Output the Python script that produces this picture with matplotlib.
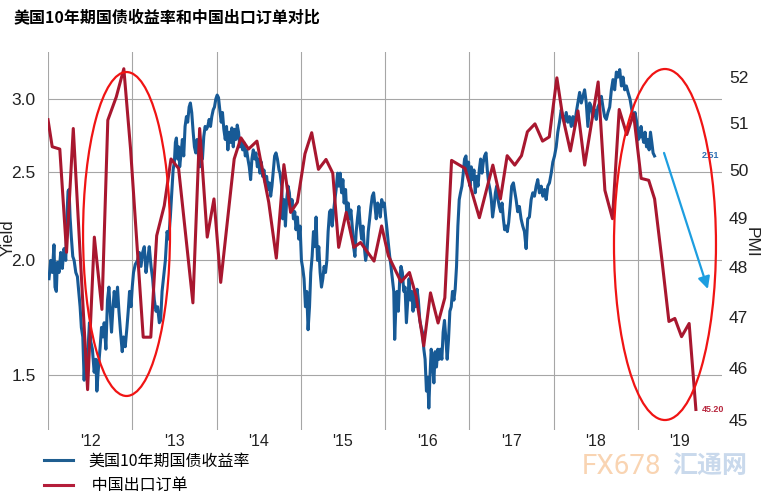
import matplotlib
matplotlib.use("Agg")
import matplotlib.pyplot as plt
from matplotlib.lines import Line2D
from matplotlib.patches import Ellipse
from matplotlib.ticker import NullLocator

plt.rcParams['font.family'] = ['Liberation Sans', 'Noto Sans CJK SC']

# --- text ---
TITLE = "美国10年期国债收益率和中国出口订单对比"
BOND_LABEL = "美国10年期国债收益率"
PMI_LABEL = "中国出口订单"

# --- axes ---
YEAR_TICKS = [2012, 2013, 2014, 2015, 2016, 2017, 2018, 2019]
YEAR_LABELS = ["'12", "'13", "'14", "'15", "'16", "'17", "'18", "'19"]
YIELD_TICKS = [1.5, 2.0, 2.5, 3.0]
PMI_TICKS = [45, 46, 47, 48, 49, 50, 51, 52]

# --- US 10y yield (decimal years) ---
BOND_YEARS = [
    2012.012, 2012.032, 2012.051, 2012.071, 2012.083, 2012.099, 2012.111, 2012.131, 2012.151, 2012.170,
    2012.190, 2012.211, 2012.223, 2012.238, 2012.250, 2012.262, 2012.277, 2012.294, 2012.310, 2012.330,
    2012.349, 2012.365, 2012.381, 2012.396, 2012.413, 2012.429, 2012.444, 2012.461, 2012.476, 2012.492,
    2012.508, 2012.527, 2012.548, 2012.568, 2012.580, 2012.595, 2012.619, 2012.635, 2012.651, 2012.667,
    2012.687, 2012.706, 2012.723, 2012.738, 2012.754, 2012.770, 2012.786, 2012.806, 2012.825, 2012.842,
    2012.861, 2012.881, 2012.896, 2012.917, 2012.937, 2012.952, 2012.968, 2012.985, 2013.000, 2013.015,
    2013.036, 2013.063, 2013.083, 2013.104, 2013.123, 2013.143, 2013.163, 2013.182, 2013.202, 2013.223,
    2013.242, 2013.262, 2013.282, 2013.301, 2013.321, 2013.337, 2013.354, 2013.373, 2013.393, 2013.413,
    2013.432, 2013.452, 2013.473, 2013.485, 2013.500, 2013.512, 2013.524, 2013.539, 2013.551, 2013.563,
    2013.580, 2013.595, 2013.611, 2013.627, 2013.643, 2013.658, 2013.675, 2013.690, 2013.706, 2013.723,
    2013.738, 2013.754, 2013.770, 2013.786, 2013.801, 2013.818, 2013.833, 2013.849, 2013.865, 2013.881,
    2013.896, 2013.913, 2013.929, 2013.944, 2013.961, 2013.976, 2013.992, 2014.008, 2014.024, 2014.039,
    2014.056, 2014.071, 2014.087, 2014.104, 2014.119, 2014.135, 2014.151, 2014.167, 2014.182, 2014.199,
    2014.214, 2014.230, 2014.246, 2014.262, 2014.277, 2014.294, 2014.310, 2014.325, 2014.342, 2014.357,
    2014.373, 2014.389, 2014.405, 2014.420, 2014.437, 2014.452, 2014.468, 2014.485, 2014.500, 2014.515,
    2014.532, 2014.548, 2014.563, 2014.580, 2014.595, 2014.611, 2014.627, 2014.643, 2014.658, 2014.675,
    2014.690, 2014.706, 2014.723, 2014.742, 2014.754, 2014.774, 2014.786, 2014.801, 2014.818, 2014.833,
    2014.849, 2014.865, 2014.881, 2014.896, 2014.913, 2014.929, 2014.944, 2014.961, 2014.976, 2014.992,
    2015.008, 2015.024, 2015.039, 2015.056, 2015.071, 2015.087, 2015.104, 2015.119, 2015.135, 2015.151,
    2015.167, 2015.182, 2015.199, 2015.214, 2015.230, 2015.246, 2015.262, 2015.277, 2015.294, 2015.310,
    2015.325, 2015.342, 2015.357, 2015.373, 2015.389, 2015.405, 2015.420, 2015.437, 2015.452, 2015.468,
    2015.485, 2015.500, 2015.515, 2015.532, 2015.548, 2015.563, 2015.580, 2015.595, 2015.611, 2015.627,
    2015.643, 2015.658, 2015.675, 2015.690, 2015.706, 2015.723, 2015.738, 2015.754, 2015.770, 2015.786,
    2015.801, 2015.818, 2015.833, 2015.849, 2015.865, 2015.881, 2015.896, 2015.913, 2015.929, 2015.944,
    2015.961, 2015.976, 2015.992, 2016.008, 2016.024, 2016.039, 2016.056, 2016.071, 2016.087, 2016.104,
    2016.115, 2016.127, 2016.143, 2016.158, 2016.175, 2016.190, 2016.206, 2016.223, 2016.238, 2016.254,
    2016.270, 2016.286, 2016.301, 2016.318, 2016.333, 2016.349, 2016.365, 2016.381, 2016.396, 2016.413,
    2016.429, 2016.444, 2016.461, 2016.476, 2016.492, 2016.508, 2016.520, 2016.532, 2016.548, 2016.563,
    2016.580, 2016.595, 2016.611, 2016.627, 2016.643, 2016.658, 2016.675, 2016.690, 2016.706, 2016.723,
    2016.738, 2016.754, 2016.770, 2016.786, 2016.801, 2016.818, 2016.833, 2016.849, 2016.865, 2016.881,
    2016.896, 2016.913, 2016.929, 2016.944, 2016.961, 2016.976, 2016.992, 2017.008, 2017.024, 2017.039,
    2017.056, 2017.071, 2017.087, 2017.104, 2017.119, 2017.135, 2017.151, 2017.167, 2017.182, 2017.199,
    2017.214, 2017.230, 2017.246, 2017.262, 2017.277, 2017.294, 2017.310, 2017.325, 2017.342, 2017.357,
    2017.373, 2017.389, 2017.405, 2017.420, 2017.437, 2017.452, 2017.468, 2017.485, 2017.504, 2017.524,
    2017.536, 2017.556, 2017.575, 2017.595, 2017.615, 2017.635, 2017.655, 2017.675, 2017.694, 2017.714,
    2017.735, 2017.754, 2017.774, 2017.794, 2017.813, 2017.833, 2017.854, 2017.873, 2017.893, 2017.913,
    2017.932, 2017.952, 2017.973, 2017.992, 2018.012, 2018.032, 2018.051, 2018.071, 2018.092, 2018.111,
    2018.131, 2018.151, 2018.170, 2018.190, 2018.211, 2018.230, 2018.250, 2018.270, 2018.289, 2018.310,
    2018.330, 2018.349, 2018.369, 2018.389, 2018.408, 2018.429, 2018.449, 2018.468, 2018.488, 2018.508,
    2018.527, 2018.548, 2018.568, 2018.587, 2018.607, 2018.627, 2018.646, 2018.667, 2018.687, 2018.706,
    2018.726, 2018.746, 2018.765, 2018.786, 2018.806, 2018.825, 2018.845, 2018.865, 2018.885, 2018.908,
    2018.929, 2018.949, 2018.968, 2018.988, 2019.008, 2019.027, 2019.039, 2019.056, 2019.071, 2019.087,
    2019.104, 2019.119, 2019.135, 2019.151, 2019.167, 2019.182, 2019.199,
]
BOND_YIELD = [
    1.91, 2.00, 1.94, 2.08, 1.87, 1.85, 1.99, 1.94, 2.04, 1.96,
    2.06, 2.00, 2.22, 2.38, 2.39, 2.23, 2.12, 2.02, 2.00, 1.94,
    1.92, 1.85, 1.78, 1.69, 1.65, 1.48, 1.60, 1.53, 1.61, 1.71,
    1.63, 1.60, 1.51, 1.56, 1.44, 1.51, 1.61, 1.69, 1.65, 1.71,
    1.60, 1.81, 1.87, 1.76, 1.67, 1.77, 1.85, 1.78, 1.87, 1.76,
    1.67, 1.59, 1.65, 1.61, 1.69, 1.76, 1.85, 1.78, 1.87, 1.94,
    1.98, 2.00, 2.04, 1.97, 2.04, 2.07, 1.94, 2.00, 2.07, 1.97,
    1.91, 1.81, 1.76, 1.78, 1.71, 1.72, 1.85, 1.92, 2.00, 2.15,
    2.11, 2.23, 2.41, 2.51, 2.56, 2.69, 2.72, 2.58, 2.66, 2.53,
    2.62, 2.71, 2.60, 2.80, 2.87, 2.83, 2.94, 2.97, 2.90, 2.76,
    2.66, 2.62, 2.71, 2.60, 2.53, 2.66, 2.58, 2.73, 2.80, 2.78,
    2.80, 2.85, 2.80, 2.87, 2.92, 2.94, 3.00, 3.03, 3.01, 2.92,
    2.83, 2.90, 2.78, 2.71, 2.80, 2.64, 2.76, 2.69, 2.79, 2.66,
    2.78, 2.71, 2.81, 2.76, 2.66, 2.71, 2.64, 2.69, 2.60, 2.64,
    2.58, 2.53, 2.45, 2.58, 2.64, 2.58, 2.62, 2.53, 2.58, 2.49,
    2.56, 2.47, 2.51, 2.43, 2.47, 2.39, 2.43, 2.35, 2.41, 2.51,
    2.60, 2.62, 2.58, 2.51, 2.49, 2.41, 2.22, 2.33, 2.18, 2.33,
    2.41, 2.37, 2.26, 2.33, 2.22, 2.26, 2.16, 2.23, 2.11, 2.18,
    2.00, 1.96, 1.91, 1.78, 1.85, 1.68, 1.78, 1.94, 2.02, 2.15,
    2.07, 2.23, 2.00, 2.07, 1.94, 1.87, 1.91, 1.97, 1.94, 2.00,
    2.15, 2.26, 2.27, 2.18, 2.26, 2.33, 2.39, 2.49, 2.41, 2.49,
    2.37, 2.45, 2.31, 2.39, 2.23, 2.31, 2.22, 2.27, 2.18, 2.07,
    2.02, 2.15, 2.23, 2.29, 2.18, 2.11, 2.18, 2.07, 2.00, 2.04,
    2.15, 2.22, 2.29, 2.35, 2.37, 2.29, 2.22, 2.31, 2.29, 2.23,
    2.33, 2.29, 2.31, 2.23, 2.16, 2.09, 2.02, 1.97, 1.91, 1.85,
    1.64, 1.76, 1.85, 1.76, 1.91, 1.97, 1.94, 1.85, 1.87, 1.71,
    1.81, 1.91, 1.81, 1.85, 1.76, 1.85, 1.78, 1.86, 1.81, 1.72,
    1.69, 1.67, 1.60, 1.56, 1.44, 1.49, 1.38, 1.48, 1.60, 1.56,
    1.47, 1.59, 1.53, 1.60, 1.56, 1.60, 1.56, 1.67, 1.72, 1.64,
    1.56, 1.64, 1.76, 1.78, 1.85, 1.81, 1.86, 1.97, 2.18, 2.33,
    2.37, 2.41, 2.49, 2.58, 2.60, 2.49, 2.56, 2.41, 2.53, 2.45,
    2.51, 2.37, 2.47, 2.41, 2.51, 2.58, 2.49, 2.56, 2.60, 2.62,
    2.51, 2.43, 2.39, 2.33, 2.23, 2.29, 2.37, 2.41, 2.33, 2.29,
    2.26, 2.31, 2.22, 2.16, 2.18, 2.15, 2.20, 2.29, 2.41, 2.43,
    2.39, 2.33, 2.26, 2.29, 2.22, 2.18, 2.15, 2.06, 2.22, 2.23,
    2.33, 2.37, 2.35, 2.41, 2.45, 2.37, 2.41, 2.35, 2.39, 2.33,
    2.41, 2.43, 2.49, 2.56, 2.60, 2.66, 2.76, 2.83, 2.92, 2.87,
    2.83, 2.90, 2.83, 2.87, 2.80, 2.87, 2.80, 2.90, 2.97, 3.05,
    2.97, 3.02, 3.07, 2.97, 2.80, 2.97, 2.94, 2.87, 2.92, 2.85,
    2.94, 2.97, 3.02, 2.94, 2.87, 2.85, 2.90, 2.94, 3.07, 3.15,
    3.07, 3.21, 3.17, 3.23, 3.10, 3.17, 3.07, 3.10, 3.05, 3.00,
    2.92, 2.85, 2.90, 2.83, 2.71, 2.73, 2.80, 2.73, 2.69, 2.76,
    2.66, 2.71, 2.64, 2.76, 2.69, 2.62, 2.60,
]

# --- China new export orders PMI ---
PMI_YEARS = [
    2012.00, 2012.05, 2012.14, 2012.22, 2012.30, 2012.47, 2012.55, 2012.64, 2012.71, 2012.81,
    2012.90, 2012.98, 2013.13, 2013.22, 2013.29, 2013.38, 2013.46, 2013.55, 2013.72, 2013.80,
    2013.89, 2013.97, 2014.05, 2014.21, 2014.29, 2014.38, 2014.48, 2014.52, 2014.62, 2014.71,
    2014.80, 2014.88, 2014.96, 2015.05, 2015.13, 2015.21, 2015.30, 2015.38, 2015.45, 2015.54,
    2015.63, 2015.71, 2015.87, 2015.96, 2016.04, 2016.19, 2016.29, 2016.37, 2016.46, 2016.54,
    2016.63, 2016.71, 2016.79, 2016.95, 2017.12, 2017.28, 2017.37, 2017.45, 2017.54, 2017.62,
    2017.69, 2017.78, 2017.87, 2017.95, 2018.04, 2018.11, 2018.20, 2018.29, 2018.37, 2018.53,
    2018.61, 2018.70, 2018.78, 2018.87, 2018.95, 2019.04, 2019.13, 2019.20, 2019.29, 2019.37,
    2019.44, 2019.52, 2019.61, 2019.69,
]
PMI_VALUES = [
    51.08, 50.50, 50.45, 48.30, 50.89, 45.58, 48.61, 47.15, 51.07, 51.57,
    52.19, 50.45, 46.60, 46.60, 48.64, 49.26, 50.24, 50.04, 47.28, 50.89,
    48.61, 49.40, 47.69, 50.24, 50.69, 50.45, 50.62, 50.24, 49.33, 48.18,
    50.12, 49.12, 49.33, 50.35, 50.80, 50.02, 50.23, 49.94, 48.40, 49.12,
    48.40, 48.50, 48.12, 48.84, 48.23, 47.70, 47.89, 47.41, 46.43, 47.48,
    46.88, 47.38, 50.21, 50.04, 49.01, 50.11, 49.40, 50.31, 50.11, 50.31,
    50.82, 50.99, 50.62, 50.71, 51.99, 51.14, 50.41, 51.27, 50.11, 51.90,
    49.58, 48.99, 51.30, 50.76, 51.21, 49.83, 49.79, 49.40, 48.10, 46.91,
    46.97, 46.61, 46.87, 45.20,
]
assert len(BOND_YEARS) == len(BOND_YIELD)
assert len(PMI_YEARS) == len(PMI_VALUES)

BLUE = '#175a96'
RED = '#a8172f'
GRID = '#a6a6a6'
CJK = ['Noto Sans CJK SC', 'DejaVu Sans']

fig = plt.figure(figsize=(7.67, 4.96), dpi=100)
ax = fig.add_axes([48 / 767, 66 / 496, 674 / 767, 378 / 496])
ax2 = ax.twinx()

ax.plot(BOND_YEARS, BOND_YIELD, color=BLUE, lw=2.2, solid_joinstyle='round')
ax2.plot(PMI_YEARS, PMI_VALUES, color=RED, lw=2.2, solid_joinstyle='round')

# both sides are log scaled in the source chart
ax.set_yscale('log')
ax2.set_yscale('log')
ax.set_xlim(2012, 2020)
ax.set_ylim(1.306, 3.376)
ax2.set_ylim(44.81, 52.56)

ax.set_yticks(YIELD_TICKS, labels=[f"{v:.1f}" for v in YIELD_TICKS])
ax.yaxis.set_minor_locator(NullLocator())
ax2.set_yticks(PMI_TICKS, labels=[str(v) for v in PMI_TICKS])
ax2.yaxis.set_minor_locator(NullLocator())

ax.set_xticks(YEAR_TICKS, labels=[''] * len(YEAR_TICKS))
ax.set_xticks([y + 0.5 for y in YEAR_TICKS], labels=YEAR_LABELS, minor=True)
ax.tick_params(axis='x', which='both', length=0, pad=3, labelsize=11.5, labelcolor='#222222')
ax.tick_params(axis='y', length=0, pad=9, labelsize=12.5, labelcolor='#222222')
ax2.tick_params(axis='y', length=0, pad=5, labelsize=12.5, labelcolor='#222222')

ax.grid(True, which='major', color=GRID, lw=0.8)
ax.set_axisbelow(True)
for a in (ax, ax2):
    for s in a.spines.values():
        s.set_visible(False)

ax.set_ylabel('Yield', fontsize=12, color='#222222', ha='center', va='center')
ax.yaxis.set_label_coords(-0.059, 0.51)
ax2.set_ylabel('PMI', fontsize=12.5, color='#222222', rotation=270, ha='center', va='center')
ax2.yaxis.set_label_coords(1.0425, 0.497)

# last value tags
ax.annotate('2.51', xy=(BOND_YEARS[-1], BOND_YIELD[-1]), xytext=(34, 0),
            textcoords='offset points', ha='left', va='center',
            fontsize=6.5, fontweight='bold', color='#2f70b3')
ax2.annotate('45.20', xy=(PMI_YEARS[-1], PMI_VALUES[-1]), xytext=(4, 0),
             textcoords='offset points', ha='left', va='center',
             fontsize=6.5, fontweight='bold', color='#b8283f')

# hand drawn highlights
for cx, cy, w, h in [(0.1165, 0.5185, 0.129, 0.857), (0.9154, 0.4907, 0.1513, 0.9286)]:
    ax2.add_patch(Ellipse((cx, cy), w, h, transform=ax2.transAxes, fill=False,
                          ec='#f01414', lw=1.6, clip_on=False, zorder=5))
ax2.annotate('', xy=(0.979, 0.373), xytext=(0.914, 0.733), xycoords='axes fraction',
             arrowprops=dict(arrowstyle='-|>', color='#1d9ee0', lw=1.6,
                             mutation_scale=18, shrinkA=0, shrinkB=0), zorder=6)

fig.text(13 / 767, 1 - 17 / 496, TITLE, family=CJK, fontsize=11.5, fontweight='bold',
         ha='left', va='center')

# faint watermark
fig.text(582 / 767, 1 - 466 / 496, 'FX678', color='#f9d4b2', fontsize=20,
         family='Roboto', ha='left', va='center', zorder=0)
fig.text(672 / 767, 1 - 466 / 496, '汇通网', color='#c9d9ec', fontsize=18,
         family=CJK, fontweight='bold', ha='left', va='center', zorder=0)

handles = [Line2D([], [], color='#1f5e90', lw=2.2), Line2D([], [], color='#b41d3a', lw=2.2)]
fig.legend(handles, [BOND_LABEL, ' ' + PMI_LABEL], loc='upper left',
           bbox_to_anchor=(0.058, 0.088), frameon=False,
           prop=dict(family=CJK, size=11.5), handlelength=1.8, handletextpad=0.95,
           labelspacing=0.5, borderpad=0, borderaxespad=0)

fig.savefig('out.png', dpi=100)
